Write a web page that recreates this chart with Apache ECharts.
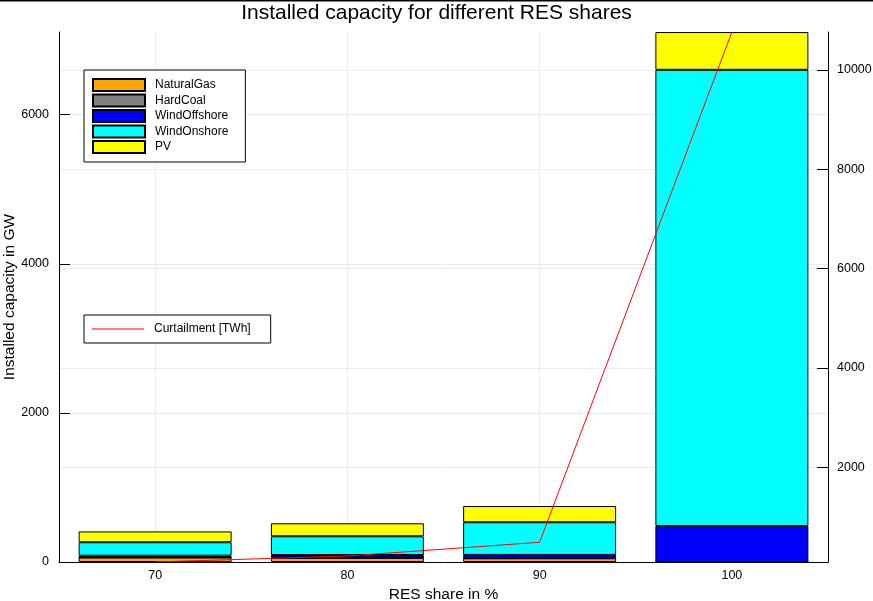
<!DOCTYPE html>
<html lang="en">
<head>
    <meta charset="UTF-8">
    <title>Installed capacity for different RES shares</title>
    <script src="https://cdn.jsdelivr.net/npm/echarts@6/dist/echarts.min.js"></script>
    <style>
        html, body { margin: 0; padding: 0; background: #ffffff; }
        #chart { width: 873px; height: 601px; }
    </style>
</head>
<body>
    <div id="chart"></div>

    <script>
        // RES share in %
        const resShares = ['70', '80', '90', '100'];
        const resShareValues = [70, 80, 90, 100];

        // installed capacity in GW (stacked, bottom to top)
        const naturalGas   = [60, 55, 50, 0];
        const hardCoal     = [5, 5, 5, 0];
        const windOffshore = [20, 34, 40, 483];
        const windOnshore  = [180, 251, 438, 6120];
        const pv           = [145, 174, 218, 506];

        // curtailment in TWh (right axis)
        const curtailment = [93, 214, 490, 10760];

        const leftTicks = [0, 2000, 4000, 6000];
        const rightTicks = [2000, 4000, 6000, 8000, 10000];

        const font = 'Liberation Sans, Arial, sans-serif';
        const gridColor = '#ececec';
        const plain = v => String(v);

        const chart = echarts.init(document.getElementById('chart'));

        const barSeries = [
            ['NaturalGas', naturalGas, '#FFA500'],
            ['HardCoal', hardCoal, '#808080'],
            ['WindOffshore', windOffshore, '#0000FF'],
            ['WindOnshore', windOnshore, '#00FFFF'],
            ['PV', pv, '#FFFF00'],
        ].map(([name, data, color]) => ({
            name: name,
            type: 'bar',
            stack: 'cap',
            barWidth: 153,
            data: data,
            itemStyle: { color: color, borderColor: '#000', borderWidth: 1 },
            emphasis: { disabled: true },
        }));

        const legendBox = {
            orient: 'vertical',
            left: 84,
            itemWidth: 52,
            backgroundColor: '#fff',
            borderColor: '#000',
            borderWidth: 1,
            borderRadius: 0,
            selectedMode: false,
            icon: 'rect',
            textStyle: { fontFamily: font, fontSize: 12, color: '#000', padding: [0, 0, 0, 5] },
        };

        const option = {
            animation: false,
            textStyle: { fontFamily: font },
            title: {
                text: 'Installed capacity for different RES shares',
                left: 'center',
                top: 0,
                padding: [3, 5],
                textStyle: { fontFamily: font, fontSize: 21, fontWeight: 'normal', color: '#000' },
            },
            graphic: [{
                type: 'line',
                shape: { x1: 0, y1: 0.5, x2: 873, y2: 0.5 },
                style: { stroke: '#000', lineWidth: 2 },
            }],
            legend: [Object.assign({}, legendBox, {
                data: ['NaturalGas', 'HardCoal', 'WindOffshore', 'WindOnshore', 'PV'],
                top: 70,
                itemHeight: 12,
                itemGap: 1.5,
                padding: [8, 17, 8, 8],
            }), Object.assign({}, legendBox, {
                data: ['Curtailment [TWh]'],
                top: 315,
                itemHeight: 1,
                padding: [8, 20, 8, 8],
            })],
            grid: { left: 59, right: 45, top: 32, bottom: 39, outerBoundsMode: 'none', containLabel: false },
            xAxis: [{
                type: 'category',
                data: resShares,
                z: 10,
                name: 'RES share in %',
                nameLocation: 'middle',
                nameGap: 23,
                nameTextStyle: { fontFamily: font, fontSize: 15.5, color: '#000' },
                axisLine: { lineStyle: { color: '#000', width: 1 } },
                axisTick: { inside: true, length: 8, alignWithLabel: true, lineStyle: { color: '#000' } },
                axisLabel: { color: '#000', fontSize: 12.5, margin: 7 },
                splitLine: { show: false },
            }, {
                // hidden value axis only used for the vertical grid lines at the categories
                type: 'value',
                position: 'bottom',
                min: 65,
                max: 105,
                axisLine: { show: false },
                axisTick: { show: false, customValues: resShareValues },
                axisLabel: { show: false, customValues: resShareValues },
                splitLine: { show: true, lineStyle: { color: gridColor, width: 1 } },
            }],
            yAxis: [{
                type: 'value',
                min: 0,
                max: 7110,
                name: 'Installed capacity in GW',
                nameLocation: 'middle',
                nameGap: 41,
                nameMoveOverlap: false,
                nameTextStyle: { fontFamily: font, fontSize: 15.5, color: '#000' },
                axisLine: { show: true, lineStyle: { color: '#000', width: 1 } },
                axisTick: { show: true, inside: true, length: 11, lineStyle: { color: '#000' }, customValues: leftTicks },
                axisLabel: { color: '#000', fontSize: 12.5, margin: 10, formatter: plain, customValues: leftTicks },
                splitLine: { show: true, lineStyle: { color: gridColor, width: 1 } },
            }, {
                type: 'value',
                position: 'right',
                min: 93,
                max: 10760,
                axisLine: { show: true, lineStyle: { color: '#000', width: 1 } },
                axisTick: { show: true, inside: true, length: 11, lineStyle: { color: '#000' }, customValues: rightTicks },
                axisLabel: { color: '#000', fontSize: 12.5, margin: 9, formatter: plain, customValues: rightTicks },
                splitLine: { show: true, lineStyle: { color: gridColor, width: 1 } },
            }],
            series: barSeries.concat([{
                name: 'Curtailment [TWh]',
                type: 'line',
                yAxisIndex: 1,
                data: curtailment,
                symbol: 'none',
                lineStyle: { color: '#FF0000', width: 1 },
                itemStyle: { color: '#FF0000' },
                z: 5,
                emphasis: { disabled: true },
            }]),
        };

        chart.setOption(option);
    </script>
</body>
</html>
